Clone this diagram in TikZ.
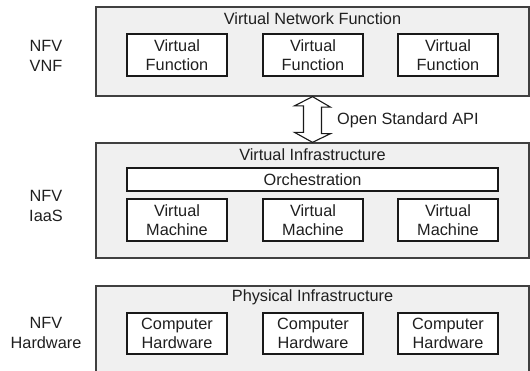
\documentclass[tikz,border=0pt]{standalone}
\usepackage{fontspec}
\setmainfont{Liberation Sans}
\begin{document}
\begin{tikzpicture}[x=1pt,y=-1pt,
  every node/.style={font=\fontsize{16.3}{19.5}\selectfont, text=black!88, inner sep=0pt, align=center},
  outer/.style={draw=black!75, fill=black!6, line width=1.3pt},
  inbox/.style={draw=black!90, fill=white, line width=1.1pt, minimum width=100pt, minimum height=42pt},
  apiarrow/.style={draw=black!90, fill=white, line width=1.1pt, line join=miter}]
\useasboundingbox (0,0) rectangle (530,371);
\clip (0,0) rectangle (530,371);
% layer 1
\node[outer, minimum width=433pt, minimum height=89pt] (vnf) at (312.5,51.5) {};
\node (vnft) at (312.5,19) {Virtual Network Function};
\node[inbox] (vf1) at (177,55) {Virtual\\Function};
\node[inbox] (vf2) at (313,55) {Virtual\\Function};
\node[inbox] (vf3) at (448,55) {Virtual\\Function};
\node (l1) at (46,56) {NFV\\VNF};
% layer 2
\node[outer, minimum width=433pt, minimum height=115pt] (vi) at (312.5,200.5) {};
\node (vit) at (312.5,155) {Virtual Infrastructure};
\node[inbox, minimum width=371pt, minimum height=23pt] (orch) at (312.5,179.5) {Orchestration};
\node[inbox] (vm1) at (177,220) {Virtual\\Machine};
\node[inbox] (vm2) at (313,220) {Virtual\\Machine};
\node[inbox] (vm3) at (448,220) {Virtual\\Machine};
\node (l2) at (46,206) {NFV\\IaaS};
% layer 3
\node[outer, minimum width=433pt, minimum height=104pt] (pi) at (312.5,338) {};
\node (pit) at (312.5,297) {Physical Infrastructure};
\node[inbox, minimum height=41pt] (ch1) at (177,333.5) {Computer\\Hardware};
\node[inbox, minimum height=41pt] (ch2) at (313,333.5) {Computer\\Hardware};
\node[inbox, minimum height=41pt] (ch3) at (448,333.5) {Computer\\Hardware};
\node (l3) at (46,333) {NFV\\Hardware};
% API arrow
\draw[apiarrow] (vnf.south) -- ++(18,10.5) -- ++(-9,0) -- ++(0,26.5) -- ++(9,0)
  -- (vi.north) -- ++(-18,-10) -- ++(9,0) -- ++(0,-26.5) -- ++(-9,0) -- cycle;
\node[anchor=west] (api) at (337,120) {Open Standard API};
\end{tikzpicture}
\end{document}
